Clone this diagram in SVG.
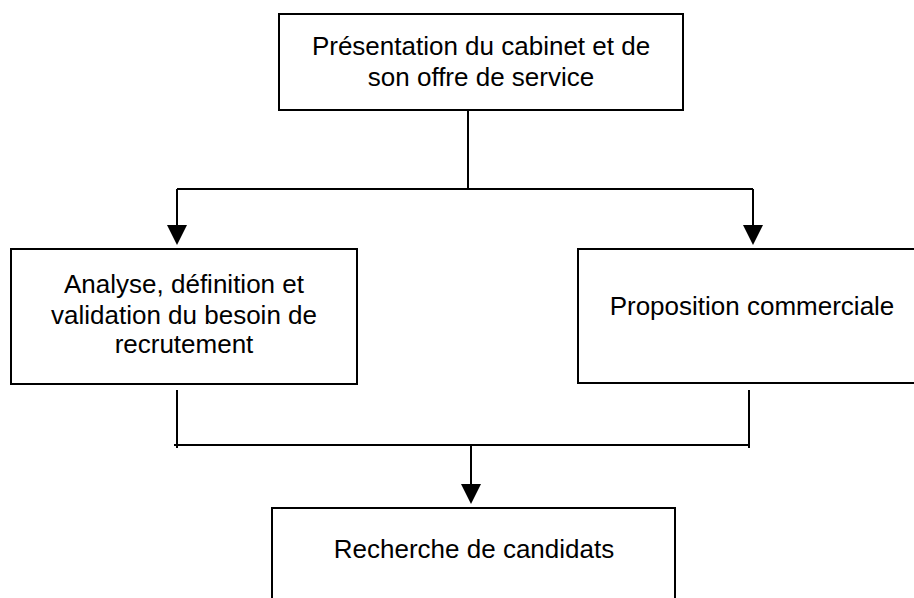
<svg xmlns="http://www.w3.org/2000/svg" width="914" height="598" viewBox="0 0 914 598">
<style>
.box{fill:#fff;stroke:#000;stroke-width:2}
.t{font-family:"Liberation Sans",Arial,sans-serif;font-size:26px;fill:#000;text-anchor:middle}
.c{stroke:#000;stroke-width:2;fill:none}
.ah{fill:#000;stroke:none}
</style>
<rect width="914" height="598" fill="#fff"/>
<g id="connectors">
<path class="c" d="M468 110V189M177 189H753M177 189V226M753 189V226"/>
<polygon class="ah" points="167,225 187,225 177,245"/>
<polygon class="ah" points="743,225 763,225 753,245"/>
<path class="c" d="M177 390V448M749 390V448M174 445H749M471 445V485"/>
<polygon class="ah" points="461,484 481,484 471,504"/>
</g>
<g id="n1">
<rect class="box" x="279" y="14" width="404" height="96"/>
<text class="t" x="481" y="55">Présentation du cabinet et de</text>
<text class="t" x="481" y="86">son offre de service</text>
</g>
<g id="n2">
<rect class="box" x="11" y="249" width="346" height="135"/>
<text class="t" x="184" y="293">Analyse, définition et</text>
<text class="t" x="184" y="324">validation du besoin de</text>
<text class="t" x="184" y="353">recrutement</text>
</g>
<g id="n3">
<rect class="box" x="578" y="249" width="345" height="134"/>
<text class="t" x="752" y="315">Proposition commerciale</text>
</g>
<g id="n4">
<rect class="box" x="272" y="508" width="403" height="110"/>
<text class="t" x="474" y="558">Recherche de candidats</text>
</g>
</svg>
